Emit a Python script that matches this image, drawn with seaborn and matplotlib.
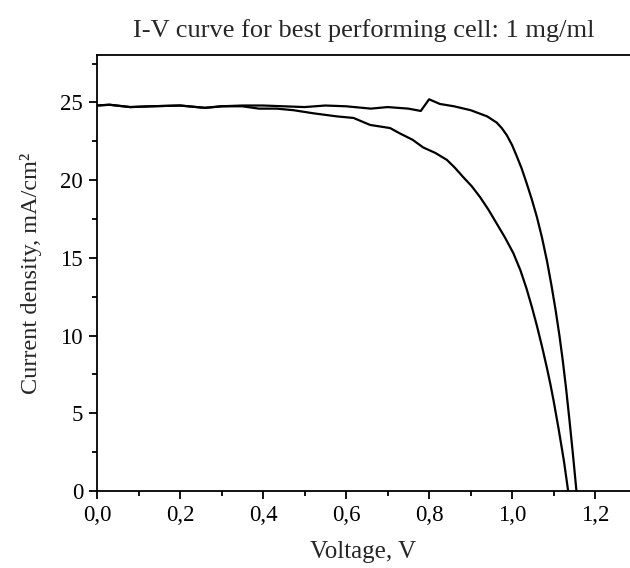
import matplotlib
matplotlib.use("Agg")
import matplotlib.pyplot as plt
from matplotlib.ticker import FixedLocator, MultipleLocator
import seaborn as sns
import pandas as pd

# Reverse scan (upper curve)
v_rev = [0.00, 0.03, 0.08, 0.13, 0.20, 0.26, 0.30, 0.35, 0.40, 0.45, 0.50, 0.55,
         0.60, 0.66, 0.70, 0.75, 0.78, 0.80, 0.826, 0.86, 0.90, 0.94, 0.963,
         0.975, 0.987, 1.0, 1.011, 1.023, 1.035, 1.047, 1.06, 1.072, 1.084,
         1.095, 1.105, 1.114, 1.122, 1.130, 1.138, 1.146, 1.155]
j_rev = [24.8, 24.85, 24.7, 24.75, 24.8, 24.65, 24.75, 24.8, 24.8, 24.75, 24.7, 24.8,
         24.75, 24.6, 24.7, 24.6, 24.45, 25.2, 24.9, 24.75, 24.5, 24.1, 23.7,
         23.35, 22.9, 22.25, 21.55, 20.75, 19.8, 18.8, 17.6, 16.3, 14.8,
         13.2, 11.6, 10.0, 8.4, 6.6, 4.6, 2.5, 0.0]

# Forward scan (lower curve)
v_fwd = [0.00, 0.03, 0.08, 0.13, 0.20, 0.26, 0.30, 0.35, 0.39, 0.433, 0.473, 0.521,
         0.578, 0.618, 0.658, 0.706, 0.73, 0.76, 0.786, 0.815, 0.843, 0.862, 0.882,
         0.903, 0.923, 0.943, 0.963, 0.983, 1.003, 1.02, 1.035, 1.048, 1.06, 1.072,
         1.084, 1.092, 1.10, 1.112, 1.125, 1.135]
j_fwd = [24.8, 24.85, 24.7, 24.75, 24.8, 24.65, 24.75, 24.75, 24.6, 24.6, 24.5, 24.3,
         24.1, 24.0, 23.55, 23.35, 23.0, 22.6, 22.1, 21.75, 21.3, 20.8, 20.2,
         19.6, 18.9, 18.1, 17.2, 16.3, 15.3, 14.2, 13.0, 11.8, 10.6, 9.3,
         7.9, 6.9, 5.8, 4.0, 1.9, 0.0]

x_ticks = [0.0, 0.2, 0.4, 0.6, 0.8, 1.0, 1.2]
x_tick_labels = ["0,0", "0,2", "0,4", "0,6", "0,8", "1,0", "1,2"]
y_ticks = [0, 5, 10, 15, 20, 25]
y_tick_labels = ["0", "5", "10", "15", "20", "25"]

title = "I-V curve for best performing cell: 1 mg/ml"
x_label = "Voltage, V"
y_label = "Current density, mA/cm²"

sns.set_style("ticks")
plt.rcParams["font.family"] = ["Liberation Serif", "DejaVu Serif"]

fig = plt.figure(figsize=(6.3, 5.68), dpi=100)
ax = fig.add_axes([97 / 630, 1 - 491 / 568, 1 - 97 / 630, (491 - 55) / 568])

df_rev = pd.DataFrame({"V": v_rev, "J": j_rev})
df_fwd = pd.DataFrame({"V": v_fwd, "J": j_fwd})
sns.lineplot(data=df_rev, x="V", y="J", ax=ax, color="black", lw=1.6, sort=False)
sns.lineplot(data=df_fwd, x="V", y="J", ax=ax, color="black", lw=1.6, sort=False)

ax.set_xlim(0, 1.284)
ax.set_ylim(0, 28.05)
ax.xaxis.set_major_locator(FixedLocator(x_ticks))
ax.set_xticklabels(x_tick_labels)
ax.xaxis.set_minor_locator(MultipleLocator(0.1))
ax.yaxis.set_major_locator(FixedLocator(y_ticks))
ax.set_yticklabels(y_tick_labels)
ax.yaxis.set_minor_locator(MultipleLocator(2.5))

ax.tick_params(which="major", direction="out", length=6, width=1.3, labelsize=16.5, colors="black", pad=4)
ax.tick_params(which="minor", direction="out", length=3.5, width=1.3, colors="black")
for side in ["left", "bottom", "top"]:
    ax.spines[side].set_visible(True)
    ax.spines[side].set_linewidth(1.3)
    ax.spines[side].set_color("black")
ax.spines["right"].set_visible(False)

ax.set_xlabel(x_label, fontsize=18, labelpad=11)
ax.set_ylabel(y_label, fontsize=17.5, labelpad=13)
ax.set_title(title, fontsize=19, pad=13)

fig.savefig("out.png", dpi=100)
